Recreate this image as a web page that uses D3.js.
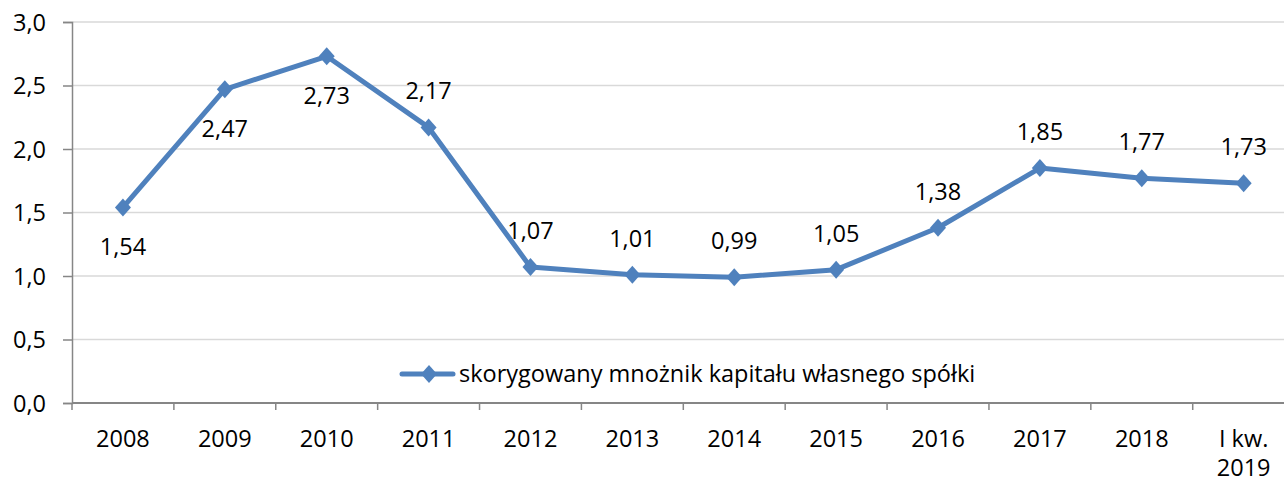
<!DOCTYPE html>
<html>
<head>
<meta charset="utf-8">
<script src="https://cdn.jsdelivr.net/npm/d3@7"></script>
<style>
  body { margin: 0; background: #fff; }
  svg text { font-family: "Open Sans", sans-serif; fill: #000; }
</style>
</head>
<body>
<div id="chart"></div>
<script>
// data
var categories = ["2008", "2009", "2010", "2011", "2012", "2013", "2014", "2015", "2016", "2017", "2018", "I kw. 2019"];
var values = [1.54, 2.47, 2.73, 2.17, 1.07, 1.01, 0.99, 1.05, 1.38, 1.85, 1.77, 1.73];
var labelSide = ["below", "below", "below", "above", "above", "above", "above", "above", "above", "above", "above", "above"];
var yTicks = [0, 0.5, 1, 1.5, 2, 2.5, 3];
var seriesName = "skorygowany mnożnik kapitału własnego spółki";

var width = 1284, height = 477;
var margin = {top: 22, left: 72, bottom: 74};
var plotRight = 1294.6; // plot runs past the right edge in the original
var fontSize = 23.5;

var svg = d3.select("#chart").append("svg")
    .attr("width", width)
    .attr("height", height);

var x = d3.scaleBand().domain(categories).range([margin.left, plotRight]);
var y = d3.scaleLinear().domain([0, 3]).range([height - margin.bottom, margin.top]);

var fmt = function(v) { return d3.format(".2f")(v).replace(".", ","); };
var fmtAxis = function(v) { return d3.format(".1f")(v).replace(".", ","); };

//gridlines
svg.append("g").selectAll("line")
    .data(yTicks.filter(function(d){ return d > 0; }))
    .enter().append("line")
    .attr("x1", margin.left).attr("x2", width)
    .attr("y1", function(d){ return y(d); })
    .attr("y2", function(d){ return y(d); })
    .attr("stroke", "#d9d9d9")
    .attr("stroke-width", 1.5);

//y axis
var yAxis = svg.append("g")
    .attr("transform", "translate(" + margin.left + ",0)")
    .call(d3.axisLeft(y).tickValues(yTicks).tickFormat(fmtAxis).tickSize(9).tickPadding(17));
yAxis.select(".domain").attr("stroke", "#868686").attr("stroke-width", 1.5);
yAxis.selectAll(".tick line").attr("stroke", "#868686").attr("stroke-width", 1.5);
yAxis.selectAll("text").attr("font-size", fontSize).attr("font-family", "Open Sans").attr("dy", "0.35em");

//x axis, ticks between categories
var xg = svg.append("g").attr("transform", "translate(0," + y(0) + ")");
xg.append("line")
    .attr("x1", margin.left).attr("x2", width)
    .attr("stroke", "#868686").attr("stroke-width", 2);
xg.selectAll(".tick")
    .data(categories)
    .enter().append("line")
    .attr("x1", function(d){ return x(d); })
    .attr("x2", function(d){ return x(d); })
    .attr("y1", 0).attr("y2", 7)
    .attr("stroke", "#868686").attr("stroke-width", 1.5);
xg.selectAll(".cat")
    .data(categories)
    .enter().append("text")
    .attr("x", function(d){ return x(d) + x.bandwidth() / 2; })
    .attr("text-anchor", "middle")
    .attr("font-size", fontSize)
    .each(function(d){
        var words = d.indexOf("kw.") > -1 ? ["I kw.", "2019"] : [d];
        var t = d3.select(this);
        words.forEach(function(w, i){
            t.append("tspan")
              .attr("x", x(d) + x.bandwidth() / 2)
              .attr("y", 44 + i * 29)
              .text(w);
        });
    });

//series line
var line = d3.line()
    .x(function(d, i){ return x(categories[i]) + x.bandwidth() / 2; })
    .y(function(d){ return y(d); });

svg.append("path")
    .datum(values)
    .attr("d", line)
    .attr("fill", "none")
    .attr("stroke", "#4f81bd")
    .attr("stroke-width", 5)
    .attr("stroke-linejoin", "round");

var diamond = "M0,-9L8,0L0,9L-8,0Z";

svg.append("g").selectAll("path")
    .data(values)
    .enter().append("path")
    .attr("d", diamond)
    .attr("transform", function(d, i){
        return "translate(" + (x(categories[i]) + x.bandwidth() / 2) + "," + y(d) + ")";
    })
    .attr("fill", "#4f81bd");

//data labels
svg.append("g").selectAll("text")
    .data(values)
    .enter().append("text")
    .attr("x", function(d, i){ return x(categories[i]) + x.bandwidth() / 2; })
    .attr("y", function(d, i){ return y(d) + (labelSide[i] == "below" ? 48 : -28); })
    .attr("text-anchor", "middle")
    .attr("font-size", fontSize)
    .text(function(d){ return fmt(d); });

//legend
var legend = svg.append("g").attr("transform", "translate(402,374)");
legend.append("line")
    .attr("x1", 0).attr("x2", 51)
    .attr("stroke", "#4f81bd").attr("stroke-width", 5)
    .attr("stroke-linecap", "round");
legend.append("path")
    .attr("d", diamond)
    .attr("transform", "translate(27,0)")
    .attr("fill", "#4f81bd");
legend.append("text")
    .attr("x", 57).attr("y", 8)
    .attr("font-size", fontSize)
    .text(seriesName);
</script>
</body>
</html>
